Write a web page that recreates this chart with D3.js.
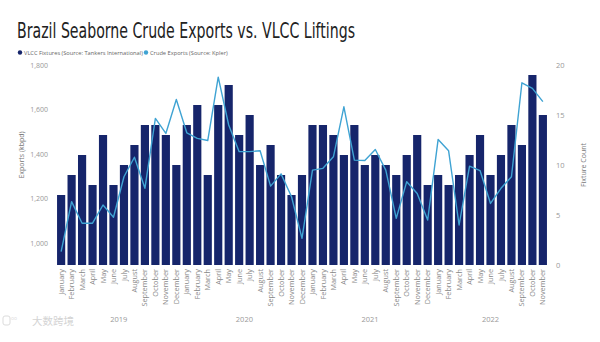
<!DOCTYPE html>
<html><head><meta charset="utf-8">
<script src="https://cdn.jsdelivr.net/npm/d3@7"></script>
<style>body{margin:0;background:#fff;}svg{display:block;}</style>
</head><body>
<svg id="c" width="600" height="342"></svg>
<script>
const years = ["2019","2020","2021","2022"];
const monthNames = ["January","February","March","April","May","June","July","August","September","October","November","December"];
const fixtures = [7,9,11,8,13,8,10,12,14,14,13,10,
                  14,16,9,16,18,13,15,10,12,9,7,9,
                  14,14,13,11,14,10,11,10,9,11,13,8,
                  9,8,9,11,13,9,11,14,12,19,15];
const exportsKbpd = [960,1185,1088,1088,1170,1115,1297,1385,1245,1560,1492,1645,
                     1495,1470,1460,1745,1530,1410,1410,1414,1255,1310,1207,1020,
                     1327,1335,1387,1612,1372,1370,1420,1327,1110,1275,1222,1102,
                     1465,1414,1080,1345,1325,1177,1245,1297,1720,1695,1635];
const leftTicks = [1000,1200,1400,1600,1800];
const rightTicks = [0,5,10,15,20];

const cats = fixtures.map((d,i)=>({key:i, month:monthNames[i%12], year:years[Math.floor(i/12)]}));

const svg = d3.select("#c");
const L=56, R=548, T=65, B=265;
const x = d3.scaleBand().domain(cats.map(c=>c.key)).range([L,R]).paddingInner(0.22).paddingOuter(0.1);
const yL = d3.scaleLinear().domain([900,1800]).range([B,T]);
const yR = d3.scaleLinear().domain([0,20]).range([B,T]);

// title
svg.append("text").attr("x",17).attr("y",38).attr("font-family","'DejaVu Sans Condensed', 'DejaVu Sans', sans-serif")
  .attr("font-size",21).attr("fill","#222").attr("textLength",338).attr("lengthAdjust","spacingAndGlyphs")
  .text("Brazil Seaborne Crude Exports vs. VLCC Liftings");

// legend
const lg = svg.append("g").attr("font-family","'Open Sans', sans-serif").attr("font-size",5.7).attr("fill","#666");
lg.append("circle").attr("cx",20).attr("cy",52.5).attr("r",2.2).attr("fill","#16256b");
lg.append("text").attr("x",24).attr("y",54.5).text("VLCC Fixtures (Source: Tankers International)");
lg.append("circle").attr("cx",146).attr("cy",52.5).attr("r",2.2).attr("fill","#3fa3d3");
lg.append("text").attr("x",150).attr("y",54.5).text("Crude Exports (Source: Kpler)");

// bars
svg.append("g").selectAll("rect").data(fixtures).join("rect")
  .attr("x",(d,i)=>x(i)).attr("width",x.bandwidth())
  .attr("y",d=>yR(d)).attr("height",d=>B-yR(d)).attr("fill","#16256b");

// line
const line = d3.line().x((d,i)=>x(i)+x.bandwidth()/2).y(d=>yL(d));
svg.append("path").datum(exportsKbpd).attr("d",line).attr("fill","none")
  .attr("stroke","#3fa3d3").attr("stroke-width",1.4).attr("stroke-linejoin","round");

// left axis
const axL = d3.axisLeft(yL).tickValues(leftTicks).tickSize(0).tickPadding(0).tickFormat(d3.format(","));
const gL = svg.append("g").attr("transform",`translate(48,0)`).call(axL);
gL.select(".domain").remove();
gL.selectAll("text").attr("font-family","'Open Sans', sans-serif").attr("font-size",7).attr("fill","#999");

const axR = d3.axisRight(yR).tickValues(rightTicks).tickSize(0).tickPadding(0);
const gR = svg.append("g").attr("transform",`translate(556,0)`).call(axR);
gR.select(".domain").remove();
gR.selectAll("text").attr("font-family","'Open Sans', sans-serif").attr("font-size",7.5).attr("fill","#999");

// axis titles
svg.append("text").attr("transform","translate(24,155) rotate(-90)").attr("text-anchor","middle")
  .attr("font-family","'Open Sans', sans-serif").attr("font-size",7).attr("fill","#777").text("Exports (kbpd)");
svg.append("text").attr("transform","translate(586,165) rotate(-90)").attr("text-anchor","middle")
  .attr("font-family","'Open Sans', sans-serif").attr("font-size",7).attr("fill","#777").text("Fixture Count");

// x axis month labels
const axB = d3.axisBottom(x).tickSize(0).tickPadding(0).tickFormat(i=>cats[i].month);
const gB = svg.append("g").attr("transform",`translate(0,${B+4})`).call(axB);
gB.select(".domain").remove();
gB.selectAll("text").attr("font-family","'Open Sans', sans-serif").attr("font-size",7.3).attr("fill","#888")
  .attr("transform","rotate(-90)").attr("text-anchor","end").attr("dy","0.35em").attr("x",0).attr("y",0);

// year labels
years.forEach((yr,k)=>{
  const idx = cats.filter(c=>c.year===yr).map(c=>c.key);
  const cx = (x(idx[0]) + x(idx[idx.length-1]) + x.bandwidth())/2;
  svg.append("text").attr("x",cx).attr("y",322).attr("text-anchor","middle")
    .attr("font-family","'Open Sans', sans-serif").attr("font-size",7.5).attr("fill","#999").text(yr);
});

// watermark
const wm = svg.append("g").attr("opacity",0.5);
wm.append("rect").attr("x",3).attr("y",316).attr("width",7).attr("height",9).attr("rx",2)
  .attr("fill","none").attr("stroke","#bbb").attr("stroke-width",1);
wm.append("text").attr("x",11).attr("y",320).attr("font-family","'Open Sans', sans-serif")
  .attr("font-size",5).attr("fill","#bbb").text("oo");
wm.append("text").attr("x",32).attr("y",325).attr("font-family","'Noto Sans CJK SC', sans-serif")
  .attr("font-size",10.5).attr("fill","#aaa").text("大数跨境");
</script>
</body></html>
